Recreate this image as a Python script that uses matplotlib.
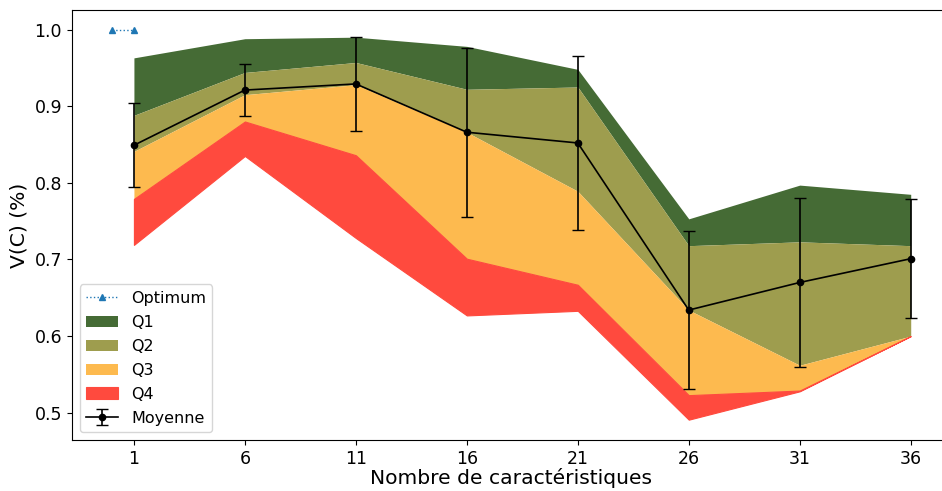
import numpy as np
import matplotlib.pyplot as plt

nb_carac = [1, 6, 11, 16, 21, 26, 31, 36]

# bornes des quartiles (max -> min)
q_max = [0.963, 0.988, 0.990, 0.978, 0.948, 0.753, 0.797, 0.785]
q_75 = [0.888, 0.944, 0.957, 0.922, 0.925, 0.718, 0.723, 0.718]
q_50 = [0.841, 0.915, 0.928, 0.866, 0.789, 0.634, 0.562, 0.600]
q_25 = [0.779, 0.880, 0.836, 0.701, 0.667, 0.523, 0.529, 0.600]
q_min = [0.719, 0.835, 0.728, 0.627, 0.633, 0.491, 0.528, 0.600]

moyenne = [0.849, 0.921, 0.929, 0.866, 0.852, 0.634, 0.670, 0.701]
ecart = [0.055, 0.034, 0.061, 0.110, 0.113, 0.103, 0.110, 0.078]

opt_x = [0, 1]
opt_y = [1.0, 1.0]

fig = plt.figure(figsize=(9.42, 4.91), dpi=100)
ax = fig.add_axes([0.0762, 0.1039, 0.933, 0.8758])

l_opt, = ax.plot(opt_x, opt_y, color="tab:blue", linestyle="dotted", marker="^",
                 markersize=5, linewidth=1, label="Optimum")
f1 = ax.fill_between(nb_carac, q_max, q_75, color="#456b35", linewidth=0, label="Q1")
f2 = ax.fill_between(nb_carac, q_75, q_50, color="#9e9d4e", linewidth=0, label="Q2")
f3 = ax.fill_between(nb_carac, q_50, q_25, color="#fdba4f", linewidth=0, label="Q3")
f4 = ax.fill_between(nb_carac, q_25, q_min, color="#ff4a3e", linewidth=0.8,
                     edgecolor="#ff4a3e", label="Q4")
eb = ax.errorbar(nb_carac, moyenne, yerr=ecart, color="black", marker="o", markersize=4.5,
                 linewidth=1.2, elinewidth=1.2, capsize=4, label="Moyenne")

ax.set_xticks(nb_carac)
ax.set_xlim(-1.8, 37.8)
ax.set_ylim(0.4645, 1.0255)
ax.tick_params(labelsize=12.5)
ax.set_xlabel("Nombre de caractéristiques", fontsize=14.6, labelpad=0)
ax.set_ylabel("V(C) (%)", fontsize=14.6)
ax.legend(handles=[l_opt, f1, f2, f3, f4, eb], loc="lower left", fontsize=11.5,
          labelspacing=0.56)

plt.savefig("out.png", dpi=100)
